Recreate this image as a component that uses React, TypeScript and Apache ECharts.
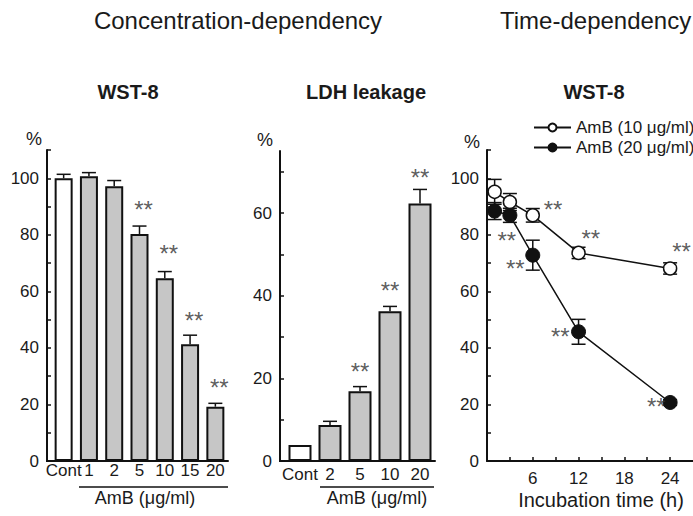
import React, { useEffect, useRef } from 'react';
import * as echarts from 'echarts';

// ---- Concentration-dependency: WST-8 ----
const wstCats = ['Cont', '1', '2', '5', '10', '15', '20'];
const wstValues = [100, 100.7, 97.2, 80.3, 64.6, 41.3, 19.2];
const wstErrors = [1.4, 1.3, 2.0, 2.8, 2.4, 3.2, 1.2];
const wstStarCats = ['5', '10', '15', '20'];
const wstStarY = [90.6, 75.3, 51.6, 27.6];
const wstTicks = [0, 10, 20, 30, 40, 50, 60, 70, 80, 90, 100, 110];
const wstLabels = [0, 20, 40, 60, 80, 100];

// ---- Concentration-dependency: LDH leakage ----
const ldhCats = ['Cont', '2', '5', '10', '20'];
const ldhValues = [3.9, 8.7, 16.9, 36.2, 62.3];
const ldhErrors = [0, 0.9, 1.1, 1.2, 3.4];
const ldhStarCats = ['5', '10', '20'];
const ldhStarY = [22.8, 42.4, 69.8];
const ldhTicks = [0, 10, 20, 30, 40, 50, 60, 70];
const ldhLabels = [0, 20, 40, 60];

// ---- Time-dependency: WST-8 ----
const times = [1, 3, 6, 12, 24];
const amb10Values = [95.2, 91.6, 86.9, 73.6, 68.1];
const amb10Errors = [4.4, 3.0, 2.4, 2.0, 2.0];
const amb20Values = [88.4, 86.9, 72.8, 45.7, 20.7];
const amb20Errors = [3.0, 2.5, 5.3, 4.4, 1.0];
const amb10StarX = [8.65, 13.6, 25.5];
const amb10StarY = [90.6, 80.3, 76];
const amb20StarX = [2.6, 3.7, 9.6, 22.2];
const amb20StarY = [79.9, 69.7, 45.7, 21.2];
const timeTicks = [3, 6, 9, 12, 15, 18, 21, 24];
const timeLabels = [6, 12, 18, 24];

const FONT = '"Liberation Sans", Arial, Helvetica, sans-serif';
const TXT = '#1a1a1a';
const INK = '#111';
const GRAY = '#c6c6c6';

const errRender = (twoSided: boolean, hw: number) => (params: any, api: any) => {
  const x = api.value(0);
  const y = api.value(1);
  const e = api.value(2);
  if (!e) return null;
  const top = api.coord([x, y + e]);
  const bot = api.coord([x, twoSided ? y - e : y]);
  const style = { stroke: INK, lineWidth: 1.5 };
  const children: any[] = [
    { type: 'line', shape: { x1: top[0], y1: top[1], x2: bot[0], y2: bot[1] }, style },
    { type: 'line', shape: { x1: top[0] - hw, y1: top[1], x2: top[0] + hw, y2: top[1] }, style },
  ];
  if (twoSided) {
    children.push({ type: 'line', shape: { x1: bot[0] - hw, y1: bot[1], x2: bot[0] + hw, y2: bot[1] }, style });
  }
  return { type: 'group', children };
};

const starSeries = (xIdx: number, yIdx: number, data: any[], dx: number) => ({
  type: 'scatter',
  xAxisIndex: xIdx,
  yAxisIndex: yIdx,
  data,
  symbolSize: 1,
  itemStyle: { color: 'rgba(0,0,0,0)' },
  silent: true,
  z: 5,
  label: {
    show: true,
    position: 'inside',
    formatter: '**',
    fontFamily: FONT,
    fontSize: 24,
    color: '#333',
    offset: [dx, 5],
  },
});

const yAxisBase = (gridIndex: number, max: number, ticks: number[], labels: number[], offset: number) => ({
  type: 'value',
  gridIndex,
  min: 0,
  max,
  interval: 10,
  offset,
  splitLine: { show: false },
  axisLine: { show: true, lineStyle: { color: INK, width: 2 } },
  axisTick: { show: true, inside: true, length: 4, customValues: ticks, lineStyle: { color: INK, width: 1.5 } },
  axisLabel: { customValues: labels, fontFamily: FONT, fontSize: 17, color: TXT, margin: 8 },
});

const catAxis = (gridIndex: number, data: string[], margin: number) => ({
  type: 'category',
  gridIndex,
  data,
  axisLine: { show: true, lineStyle: { color: INK, width: 2 } },
  axisTick: { show: false },
  axisLabel: { interval: 0, fontFamily: FONT, fontSize: 17, color: TXT, margin },
});

const gtext = (text: string, x: number, y: number, size: number, bold = false, align = 'center') => ({
  type: 'text',
  x,
  y,
  style: {
    text,
    fontFamily: FONT,
    fontSize: size,
    fontWeight: bold ? 'bold' : 'normal',
    fill: TXT,
    align,
    verticalAlign: 'middle',
  },
});

const gline = (x1: number, y1: number, x2: number, y2: number, w = 1.5) => ({
  type: 'line',
  shape: { x1, y1, x2, y2 },
  style: { stroke: INK, lineWidth: w },
});

export default function App() {
  const ref = useRef<HTMLDivElement>(null);

  useEffect(() => {
    if (!ref.current) return;
    const chart = echarts.init(ref.current, undefined, { renderer: 'svg' });

    const option: any = {
      animation: false,
      backgroundColor: '#fff',
      grid: [
        { left: 51, top: 150, width: 177, height: 311 },
        { left: 285, top: 151, width: 150, height: 310 },
        { left: 487, top: 150, width: 206, height: 311 },
      ],
      xAxis: [
        catAxis(0, wstCats, 1),
        catAxis(1, ldhCats, 5),
        {
          type: 'value',
          gridIndex: 2,
          min: 0,
          max: 27,
          interval: 3,
          splitLine: { show: false },
          axisLine: { show: true, onZero: false, lineStyle: { color: INK, width: 2 } },
          axisTick: { show: true, inside: true, length: 4, customValues: timeTicks, lineStyle: { color: INK, width: 1.5 } },
          axisLabel: { customValues: timeLabels, fontFamily: FONT, fontSize: 17, color: TXT, margin: 9 },
        },
      ],
      yAxis: [
        yAxisBase(0, 110, wstTicks, wstLabels, 4),
        yAxisBase(1, 75, ldhTicks, ldhLabels, 5),
        yAxisBase(2, 110, wstTicks, wstLabels, 0),
      ],
      legend: {
        orient: 'vertical',
        left: 528,
        top: 114,
        itemWidth: 37,
        itemHeight: 10,
        itemGap: 3,
        textStyle: { fontFamily: FONT, fontSize: 17, color: TXT },
        data: ['AmB (10 μg/ml)', 'AmB (20 μg/ml)'],
      },
      series: [
        {
          type: 'bar',
          xAxisIndex: 0,
          yAxisIndex: 0,
          barWidth: 18,
          data: wstValues.map((v, i) => ({
            value: v,
            itemStyle: { color: i === 0 ? '#fff' : GRAY },
          })),
          itemStyle: { borderColor: INK, borderWidth: 2 },
        },
        {
          type: 'custom',
          xAxisIndex: 0,
          yAxisIndex: 0,
          renderItem: errRender(false, 7),
          data: wstValues.map((v, i) => [i, v, wstErrors[i]]),
          z: 4,
          silent: true,
        },
        starSeries(0, 0, wstStarCats.map((c, i) => [c, wstStarY[i]]), 4),
        {
          type: 'bar',
          xAxisIndex: 1,
          yAxisIndex: 1,
          barWidth: 23,
          data: ldhValues.map((v, i) => ({
            value: v,
            itemStyle: { color: i === 0 ? '#fff' : GRAY },
          })),
          itemStyle: { borderColor: INK, borderWidth: 2 },
        },
        {
          type: 'custom',
          xAxisIndex: 1,
          yAxisIndex: 1,
          renderItem: errRender(false, 7),
          data: ldhValues.map((v, i) => [i, v, ldhErrors[i]]),
          z: 4,
          silent: true,
        },
        starSeries(1, 1, ldhStarCats.map((c, i) => [c, ldhStarY[i]]), 0),
        {
          type: 'custom',
          xAxisIndex: 2,
          yAxisIndex: 2,
          renderItem: errRender(true, 7),
          data: times.map((t, i) => [t, amb10Values[i], amb10Errors[i]]),
          z: 1,
          silent: true,
        },
        {
          type: 'custom',
          xAxisIndex: 2,
          yAxisIndex: 2,
          renderItem: errRender(true, 7),
          data: times.map((t, i) => [t, amb20Values[i], amb20Errors[i]]),
          z: 1,
          silent: true,
        },
        {
          name: 'AmB (10 μg/ml)',
          type: 'line',
          xAxisIndex: 2,
          yAxisIndex: 2,
          data: times.map((t, i) => [t, amb10Values[i]]),
          symbol: 'circle',
          symbolSize: 13,
          showAllSymbol: true,
          lineStyle: { color: INK, width: 1.5 },
          itemStyle: { color: '#fff', borderColor: INK, borderWidth: 1.5 },
          z: 3,
        },
        {
          name: 'AmB (20 μg/ml)',
          type: 'line',
          xAxisIndex: 2,
          yAxisIndex: 2,
          data: times.map((t, i) => [t, amb20Values[i]]),
          symbol: 'circle',
          symbolSize: 14,
          showAllSymbol: true,
          lineStyle: { color: INK, width: 1.5 },
          itemStyle: { color: INK, borderColor: INK, borderWidth: 1 },
          z: 3,
        },
        starSeries(2, 2, amb10StarX.map((x, i) => [x, amb10StarY[i]]), 0),
        starSeries(2, 2, amb20StarX.map((x, i) => [x, amb20StarY[i]]), 0),
      ],
      graphic: [
        gtext('Concentration-dependency', 238, 20, 24),
        gtext('Time-dependency', 500, 20, 24, false, 'left'),
        gtext('WST-8', 128, 92, 20, true),
        gtext('LDH leakage', 366, 92, 20, true),
        gtext('WST-8', 594, 92, 20, true),
        gtext('%', 34, 139, 18),
        gtext('%', 265, 140, 18),
        gtext('%', 472, 142, 18),
        gline(46, 461, 52, 461, 2),
        gline(279, 461, 286, 461, 2),
        gline(79, 487, 228, 487, 1.5),
        gline(320, 487, 434, 487, 1.5),
        gtext('AmB (μg/ml)', 145, 498, 18),
        gtext('AmB (μg/ml)', 377, 498, 18),
        gtext('Incubation time (h)', 601, 500, 20),
      ],
    };

    chart.setOption(option);
    return () => chart.dispose();
  }, []);

  return (
    <div
      ref={ref}
      style={{ position: 'absolute', left: 0, top: 0, width: 693, height: 516, background: '#fff' }}
    />
  );
}
